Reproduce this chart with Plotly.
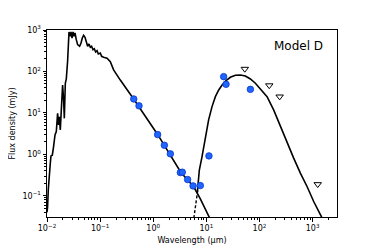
import plotly.graph_objects as go

# Stellar photosphere model (wavelength in micron, flux in mJy)
star_wl = [0.0100, 0.01026, 0.01057, 0.01091, 0.01154, 0.01189, 0.01259, 0.0133, 0.01415, 0.01497,
           0.01584, 0.01653, 0.01706, 0.0178, 0.01883, 0.01967, 0.02056, 0.02119, 0.02213, 0.02309,
           0.02443, 0.02518, 0.02595, 0.0271, 0.0283, 0.0296, 0.0309, 0.0322, 0.0337, 0.0356,
           0.0377, 0.0411, 0.0437, 0.0462, 0.0489, 0.0520, 0.0550, 0.0582, 0.0618, 0.0654,
           0.0692, 0.0735, 0.0778, 0.0823, 0.0875, 0.0925, 0.1009, 0.1067, 0.1164, 0.135,
           0.1556, 0.1795, 0.240, 0.428, 1.21, 3.3, 5.77, 7.71, 11.5, 12.5]
star_flux = [0.040, 0.055, 0.14, 0.29, 0.61, 0.92, 0.96, 1.54, 2.95, 3.54,
             9.8, 5.1, 8.1, 3.9, 27, 47, 20.6, 7.4, 52, 66,
             176, 535, 895, 705, 895, 641, 895, 705, 847, 584,
             443, 405, 486, 641, 745, 667, 535, 405, 460, 383,
             405, 335, 354, 295, 317, 264, 279, 232, 220, 208,
             172, 109, 62, 21.7, 3.03, 0.37, 0.165, 0.085, 0.0295, 0.022]

# Dust component (dashed part below the photosphere)
dust_dash_wl = [5.7, 5.82, 6.9]
dust_dash_flux = [0.022, 0.029, 0.14]

# Total model (photosphere + dust)
dust_wl = [6.78, 7.38, 8.30, 9.57, 11.04, 12.8, 14.8, 17.1, 19.8, 23.5,
           28.3, 35.2, 43.7, 54.3, 67.5, 83.8, 104, 139, 185, 248,
           331, 441, 589, 787, 1050, 1466, 1600]
dust_flux = [0.125, 0.42, 0.885, 2.69, 6.78, 14.2, 24.7, 35.8, 47.3, 60,
             72.4, 81, 82.4, 78, 66, 52, 37.8, 24.7, 11.8, 4.68,
             1.86, 0.81, 0.352, 0.168, 0.073, 0.0317, 0.022]

# Photometry
phot_wl = [0.43, 0.54, 1.21, 1.62, 2.10, 3.24, 3.53, 4.44, 5.62, 7.71, 11.2, 21.2, 23.5, 67.5]
phot_flux = [21.7, 14.8, 3.0, 1.66, 1.03, 0.364, 0.372, 0.247, 0.174, 0.177, 0.92, 75, 49, 37]

# Upper limits
ul_wl = [53, 153, 240, 1250]
ul_flux = [115, 46, 24.7, 0.19]

x_tickvals = [1e-2, 1e-1, 1e0, 1e1, 1e2, 1e3]
x_ticktext = ["10<sup>\u22122</sup>", "10<sup>\u22121</sup>", "10<sup>0</sup>",
              "10<sup>1</sup>", "10<sup>2</sup>", "10<sup>3</sup>"]
y_tickvals = [1e-1, 1e0, 1e1, 1e2, 1e3]
y_ticktext = ["10<sup>\u22121</sup>", "10<sup>0</sup>", "10<sup>1</sup>",
              "10<sup>2</sup>", "10<sup>3</sup>"]

x_minor = [m * 10 ** e for e in range(-2, 4) for m in range(2, 10)]
y_minor = [m * 10 ** e for e in range(-2, 3) for m in range(2, 10)]

fig = go.Figure()
fig.add_trace(go.Scatter(x=star_wl, y=star_flux, mode="lines",
                         line=dict(color="black", width=1.6), showlegend=False))
fig.add_trace(go.Scatter(x=dust_dash_wl, y=dust_dash_flux, mode="lines",
                         line=dict(color="black", width=1.4, dash="3px,2px"), showlegend=False))
fig.add_trace(go.Scatter(x=dust_wl, y=dust_flux, mode="lines",
                         line=dict(color="black", width=1.6), showlegend=False))
fig.add_trace(go.Scatter(x=phot_wl, y=phot_flux, mode="markers",
                         marker=dict(symbol="circle", size=6.5, color="#1f66ff",
                                     line=dict(color="#0a34c8", width=0.8)),
                         showlegend=False))
fig.add_trace(go.Scatter(x=ul_wl, y=ul_flux, mode="markers",
                         marker=dict(symbol="triangle-down-open", size=6.5, color="black",
                                     line=dict(color="black", width=1)),
                         showlegend=False))

fig.add_annotation(x=0.867, y=0.914, xref="paper", yref="paper", text="Model D",
                   xanchor="center", yanchor="middle",
                   showarrow=False, font=dict(size=12, color="black",
                                              family="DejaVu Sans"))

axis_common = dict(showline=True, linecolor="black", linewidth=1, mirror=True,
                   ticks="outside", ticklen=3.5, tickcolor="black", tickwidth=0.8,
                   showgrid=False, zeroline=False,
                   tickfont=dict(size=8, color="black", family="DejaVu Sans"))

fig.update_xaxes(type="log", range=[-2, 3.46], tickmode="array",
                 tickvals=x_tickvals, ticktext=x_ticktext,
                 minor=dict(tickmode="array", tickvals=x_minor, ticks="outside",
                            ticklen=2, tickcolor="black", tickwidth=0.6, showgrid=False),
                 title=dict(text="Wavelength (\u03bcm)", standoff=5,
                            font=dict(size=8, color="black", family="DejaVu Sans")),
                 **axis_common)
fig.update_yaxes(type="log", range=[-1.51, 3], tickmode="array",
                 tickvals=y_tickvals, ticktext=y_ticktext,
                 minor=dict(tickmode="array", tickvals=y_minor, ticks="outside",
                            ticklen=2, tickcolor="black", tickwidth=0.6, showgrid=False),
                 title=dict(text="Flux density (mJy)", standoff=6,
                            font=dict(size=8, color="black", family="DejaVu Sans")),
                 **axis_common)

# The page body adds an 8 px offset, so the figure is drawn 8 px smaller and shifted.
fig.update_layout(width=366, height=241,
                  margin=dict(l=39, r=37, t=22, b=32, autoexpand=False),
                  paper_bgcolor="white", plot_bgcolor="white",
                  font=dict(family="DejaVu Sans", color="black"))

fig.write_html("out.html")
